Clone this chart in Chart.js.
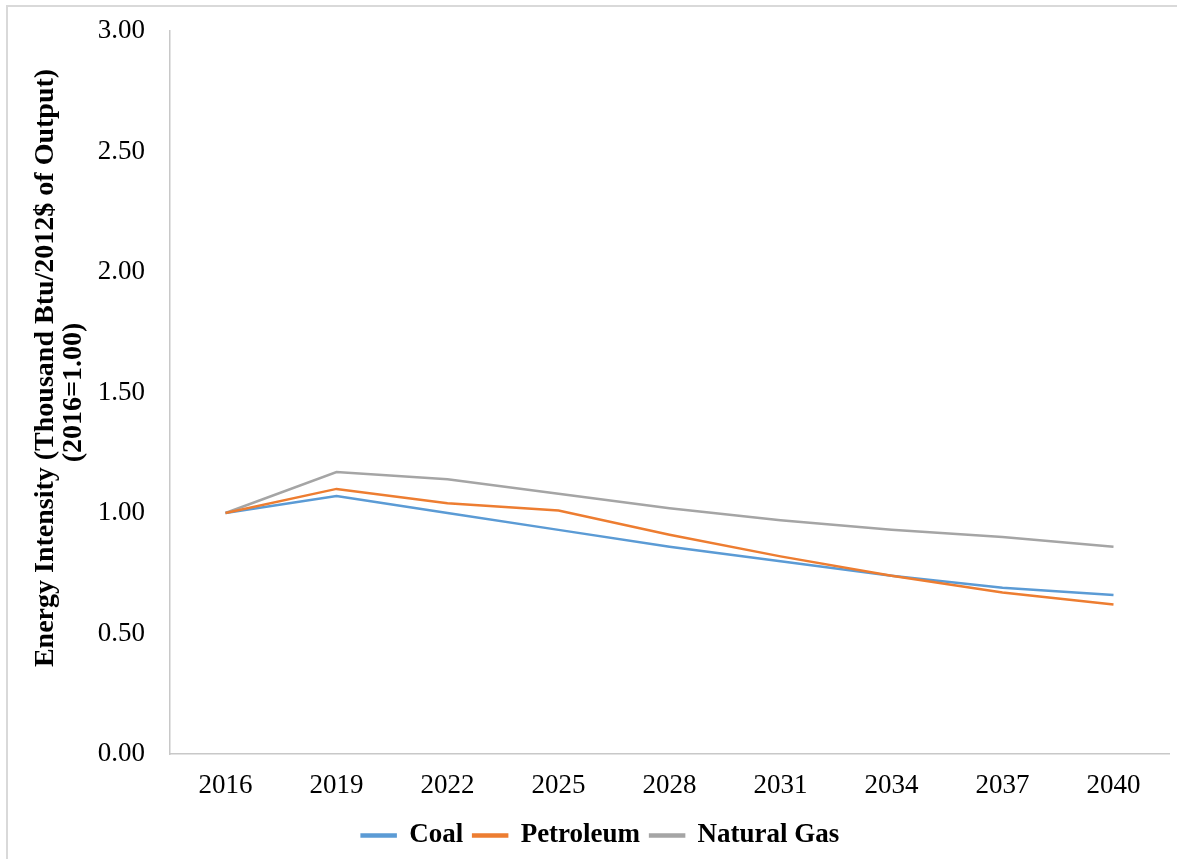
<!DOCTYPE html>
<html>
<head>
<meta charset="utf-8">
<script src="https://cdn.jsdelivr.net/npm/chart.js@4/dist/chart.umd.min.js"></script>
<style>
  html, body { margin: 0; padding: 0; background: #fff; }
  #wrap { position: relative; width: 1177px; height: 859px; }
  #frame { position: absolute; left: 6px; top: 5px; right: 0; bottom: 0;
           border-left: 2px solid #d9d9d9; border-top: 2px solid #d9d9d9; }
  canvas { position: absolute; left: 0; top: 0; }
</style>
</head>
<body>
<div id="wrap">
  <div id="frame"></div>
  <canvas id="myChart" width="1177" height="859"></canvas>
</div>
<script>
let years = ['2016', '2019', '2022', '2025', '2028', '2031', '2034', '2037', '2040'];
let coal = [1.00, 1.07, 1.00, 0.93, 0.86, 0.80, 0.74, 0.69, 0.66];
let petroleum = [1.00, 1.10, 1.04, 1.01, 0.91, 0.82, 0.74, 0.67, 0.62];
let naturalGas = [1.00, 1.17, 1.14, 1.08, 1.02, 0.97, 0.93, 0.90, 0.86];
let yTicks = [0, 0.5, 1, 1.5, 2, 2.5, 3];

let serif = "'Liberation Serif', 'Times New Roman', serif";

let ctx = document.getElementById("myChart").getContext('2d');

let chart = new Chart(ctx, {
    type: 'line',
    data: {
        labels: years,
        datasets: [
            {
                label: 'Coal',
                data: coal,
                borderColor: '#5B9BD5',
                backgroundColor: '#5B9BD5',
                borderWidth: 2.5,
                pointRadius: 0,
                order: 2
            },
            {
                label: 'Petroleum',
                data: petroleum,
                borderColor: '#ED7D31',
                backgroundColor: '#ED7D31',
                borderWidth: 2.5,
                pointRadius: 0,
                order: 1
            },
            {
                label: 'Natural Gas',
                data: naturalGas,
                borderColor: '#A5A5A5',
                backgroundColor: '#A5A5A5',
                borderWidth: 2.5,
                pointRadius: 0,
                order: 3
            }
        ]
    },
    options: {
        responsive: false,
        animation: false,
        layout: {
            padding: { top: 31, right: 8, left: 32, bottom: 0 }
        },
        plugins: {
            legend: {
                position: 'bottom',
                labels: {
                    boxWidth: 34,
                    boxHeight: 2,
                    padding: 10,
                    color: '#000',
                    font: { family: serif, size: 27, weight: 'bold' },
                    sort: (a, b) => a.datasetIndex - b.datasetIndex
                }
            },
            tooltip: { enabled: false }
        },
        scales: {
            x: {
                offset: true,
                grid: { display: false, drawTicks: false },
                border: { color: '#c8c8c8', width: 1.5 },
                ticks: {
                    color: '#000',
                    padding: 16,
                    font: { family: serif, size: 27 }
                },
                afterFit: function (scale) { scale.height = 58; }
            },
            y: {
                min: 0,
                max: 3,
                grid: { display: false, drawTicks: false },
                border: { color: '#c8c8c8', width: 1.5 },
                afterBuildTicks: function (scale) {
                    scale.ticks = yTicks.map(v => ({ value: v }));
                },
                ticks: {
                    color: '#000',
                    padding: 25,
                    font: { family: serif, size: 27 },
                    callback: v => v.toFixed(2)
                },
                title: {
                    display: true,
                    text: ['       Energy Intensity (Thousand Btu/2012$ of Output)', '(2016=1.00)'],
                    color: '#000',
                    padding: { top: 0, bottom: 0 },
                    font: { family: serif, size: 28, weight: 'bold', lineHeight: 1.0 }
                },
                afterFit: function (scale) {
                    scale.width = 138;
                    scale.paddingTop = 0;
                    scale.paddingBottom = 0;
                }
            }
        }
    }
});
</script>
</body>
</html>
